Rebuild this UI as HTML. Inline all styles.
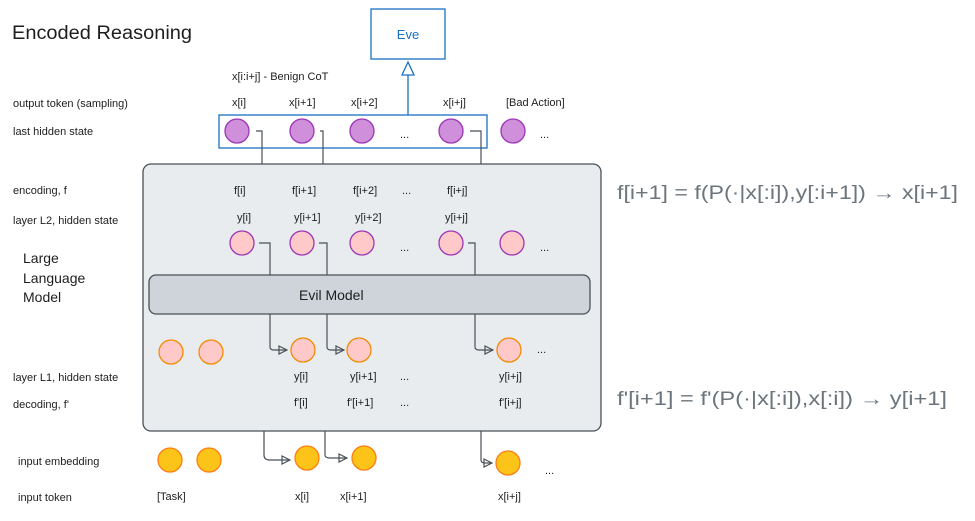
<!DOCTYPE html>
<html><head><meta charset="utf-8"><style>
html,body{margin:0;padding:0;background:#fff;}
svg text{font-family:"Liberation Sans",sans-serif;fill:#1e1e1e;}
</style></head><body>
<svg width="975" height="516" viewBox="0 0 975 516" xmlns="http://www.w3.org/2000/svg">
<defs>
<marker id="ah" markerWidth="10" markerHeight="10" refX="9" refY="5" orient="auto" markerUnits="userSpaceOnUse">
<path d="M1,1 L9,5 L1,9 Z" fill="none" stroke="#495057" stroke-width="1.2"/></marker>
</defs>
<text x="12" y="39" font-size="19" textLength="180" lengthAdjust="spacingAndGlyphs" style="fill:#1e1e1e">Encoded Reasoning</text>
<!-- Eve -->
<rect x="371" y="9" width="74" height="50" fill="#fff" stroke="#1971c2" stroke-width="1.3"/>
<text x="408" y="39" font-size="13" text-anchor="middle" style="fill:#1971c2">Eve</text>
<line x1="408" y1="115" x2="408" y2="75" stroke="#1971c2" stroke-width="1.3"/>
<path d="M402,75 L408,62 L414,75 Z" fill="#fff" stroke="#1971c2" stroke-width="1.3"/>
<text x="232" y="80" font-size="11">x[i:i+j] - Benign CoT</text>
<g font-size="11">
<text x="232" y="106">x[i]</text><text x="289" y="106">x[i+1]</text><text x="351" y="106">x[i+2]</text><text x="443" y="106">x[i+j]</text><text x="506" y="106">[Bad Action]</text>
</g>
<rect x="219" y="115" width="268" height="33" fill="none" stroke="#1971c2" stroke-width="1.3"/>
<g fill="#cf8fdb" stroke="#9c36b5" stroke-width="1.3">
<circle cx="237" cy="131" r="12"/><circle cx="302" cy="131" r="12"/><circle cx="362" cy="131" r="12"/><circle cx="451" cy="131" r="12"/><circle cx="513" cy="131" r="12"/>
</g>
<text x="400" y="138" font-size="11">...</text><text x="540" y="138" font-size="11">...</text>
<g fill="none" stroke="#495057" stroke-width="1.2">
<path d="M256,131 H262 V165"/><path d="M320,131 H323 V165"/><path d="M470,131 H481 V165"/>
</g>
<!-- LLM -->
<rect x="143" y="164" width="458" height="267" rx="8" fill="#e9ecef" stroke="#495057" stroke-width="1.3"/>
<g font-size="11">
<text x="234" y="194">f[i]</text><text x="292" y="194">f[i+1]</text><text x="353" y="194">f[i+2]</text><text x="402" y="194">...</text><text x="447" y="194">f[i+j]</text>
<text x="237" y="221">y[i]</text><text x="294" y="221">y[i+1]</text><text x="355" y="221">y[i+2]</text><text x="445" y="221">y[i+j]</text>
</g>
<g fill="#ffc9c9" stroke="#9c36b5" stroke-width="1.3">
<circle cx="242" cy="243" r="12"/><circle cx="302" cy="243" r="12"/><circle cx="362" cy="243" r="12"/><circle cx="451" cy="243" r="12"/><circle cx="512" cy="243" r="12"/>
</g>
<text x="400" y="251" font-size="11">...</text><text x="540" y="251" font-size="11">...</text>
<g fill="none" stroke="#495057" stroke-width="1.2">
<path d="M259,243 H270 V276"/><path d="M319,243 H327 V276"/><path d="M468,243 H475 V276"/>
</g>
<rect x="149" y="275" width="441" height="39" rx="7" fill="#ced4da" stroke="#495057" stroke-width="1.3"/>
<text x="299" y="300" font-size="14">Evil Model</text>
<g fill="none" stroke="#495057" stroke-width="1.2">
<path d="M270,314 V347 Q270,350 274,350 H287" marker-end="url(#ah)"/>
<path d="M327,314 V347 Q327,350 331,350 H344" marker-end="url(#ah)"/>
<path d="M475,314 V347 Q475,350 479,350 H493" marker-end="url(#ah)"/>
</g>
<g fill="#ffc9c9" stroke="#f08c00" stroke-width="1.3">
<circle cx="171" cy="352" r="12"/><circle cx="211" cy="352" r="12"/><circle cx="303" cy="350" r="12"/><circle cx="359" cy="350" r="12"/><circle cx="509" cy="350" r="12"/>
</g>
<text x="537" y="353" font-size="11">...</text>
<g font-size="11">
<text x="294" y="380">y[i]</text><text x="350" y="380">y[i+1]</text><text x="400" y="380">...</text><text x="499" y="380">y[i+j]</text>
<text x="294" y="406">f'[i]</text><text x="347" y="406">f'[i+1]</text><text x="400" y="406">...</text><text x="499" y="406">f'[i+j]</text>
</g>
<g fill="none" stroke="#495057" stroke-width="1.2">
<path d="M264,431 V455 Q264,460 270,460 H290" marker-end="url(#ah)"/>
<path d="M325,431 V455 Q325,458 330,458 H347" marker-end="url(#ah)"/>
<path d="M481,431 V460 Q481,463 485,463 H492" marker-end="url(#ah)"/>
</g>
<g fill="#fcc419" stroke="#fd7e14" stroke-width="1.3">
<circle cx="170" cy="460" r="12"/><circle cx="209" cy="460" r="12"/><circle cx="307" cy="458" r="12"/><circle cx="364" cy="458" r="12"/><circle cx="508" cy="463" r="12"/>
</g>
<text x="545" y="474" font-size="11">...</text>
<g font-size="11">
<text x="157" y="500">[Task]</text><text x="295" y="500">x[i]</text><text x="340" y="500">x[i+1]</text><text x="498" y="500">x[i+j]</text>
</g>
<!-- left labels -->
<g font-size="11">
<text x="13" y="107">output token (sampling)</text>
<text x="13" y="135">last hidden state</text>
<text x="13" y="194">encoding, f</text>
<text x="13" y="224">layer L2, hidden state</text>
<text x="13" y="381">layer L1, hidden state</text>
<text x="13" y="408">decoding, f'</text>
<text x="18" y="465">input embedding</text>
<text x="18" y="501">input token</text>
</g>
<g font-size="14">
<text x="23" y="263">Large</text><text x="23" y="283">Language</text><text x="23" y="302">Model</text>
</g>
<g font-size="19">
<text x="617" y="199" textLength="341" lengthAdjust="spacingAndGlyphs" style="fill:#6c757d">f[i+1] = f(P(·|x[:i]),y[:i+1]) → x[i+1]</text>
<text x="617" y="405" textLength="330" lengthAdjust="spacingAndGlyphs" style="fill:#6c757d">f'[i+1] = f'(P(·|x[:i]),x[:i]) → y[i+1]</text>
</g>
</svg>
</body></html>
